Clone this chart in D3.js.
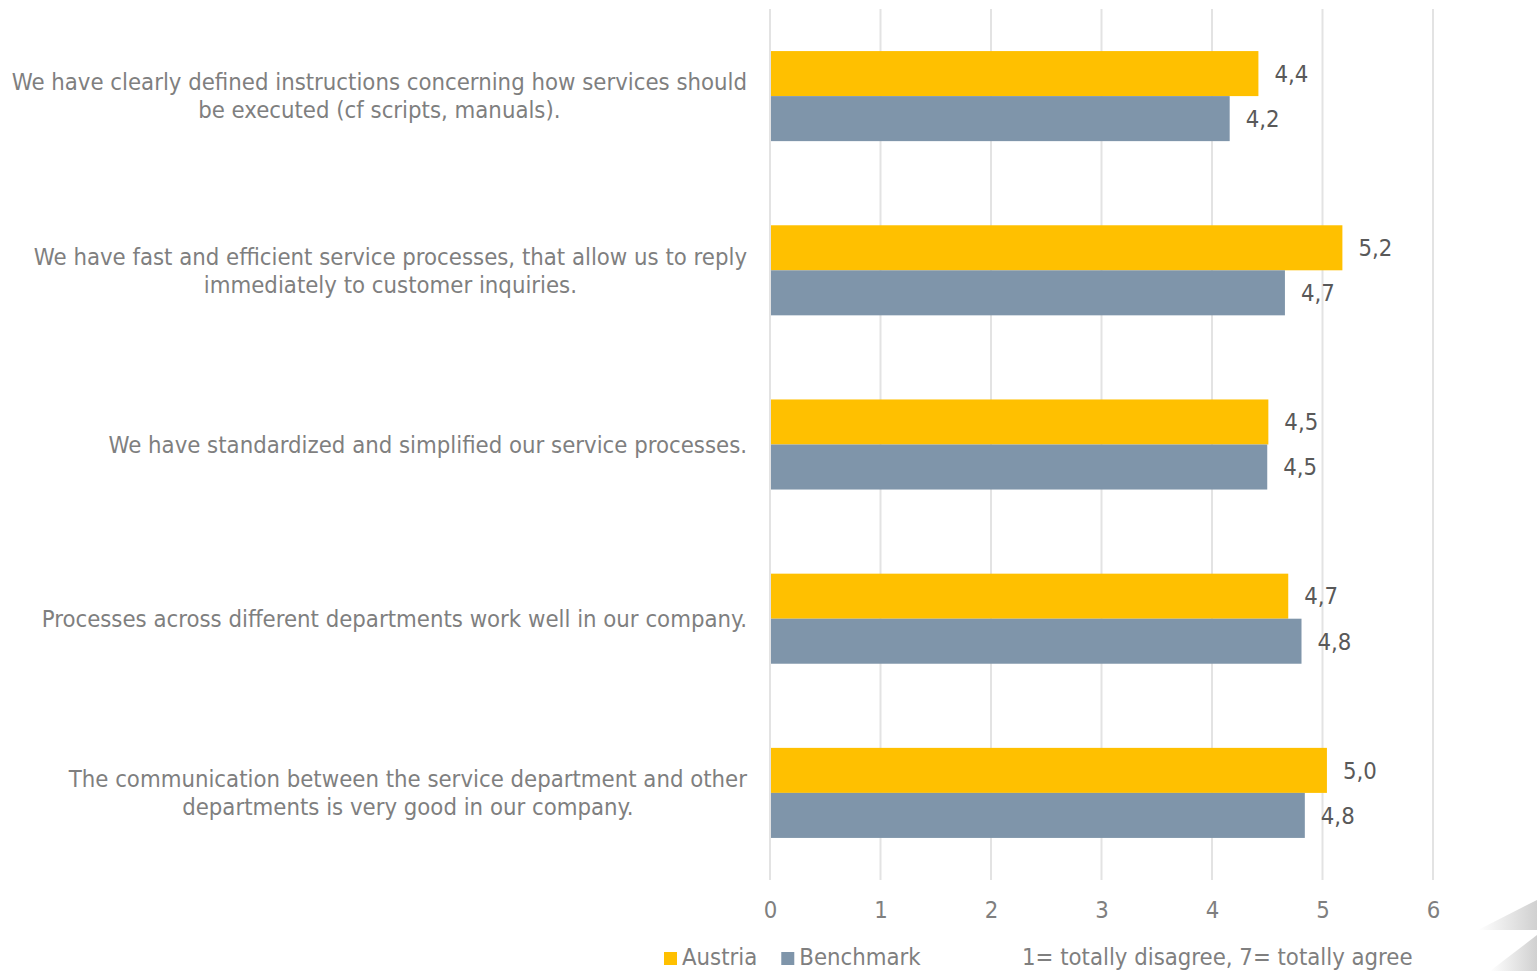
<!DOCTYPE html>
<html>
<head>
<meta charset="utf-8">
<script src="https://cdn.jsdelivr.net/npm/d3@7"></script>
<style>
  html, body { margin: 0; padding: 0; background: #fff; overflow: hidden; }
  svg { display: block; font-family: "DejaVu Sans Condensed", "DejaVu Sans", sans-serif; }
</style>
</head>
<body>
<div id="chart"></div>
<script>
// Chart data
var categories = [
  ['We have clearly defined instructions concerning how services should', 'be executed (cf scripts, manuals).'],
  ['We have fast and efficient service processes, that allow us to reply', 'immediately to customer inquiries.'],
  ['We have standardized and simplified our service processes.'],
  ['Processes across different departments work well in our company.'],
  ['The communication between the service department and other', 'departments is very good in our company.']
];
var seriesNames = ['Austria', 'Benchmark'];
var austria = [4.42, 5.18, 4.51, 4.69, 5.04];
var benchmark = [4.16, 4.66, 4.50, 4.81, 4.84];
var xTicks = [0, 1, 2, 3, 4, 5, 6];
var noteText = '1= totally disagree, 7= totally agree';

var colors = { Austria: '#FFC000', Benchmark: '#7F95AA' };

// Layout
var width = 1537, height = 971;
var plot = { left: 770, right: 1433, top: 9, bottom: 880 };
var fontSize = 23.7;

var svg = d3.select('#chart').append('svg')
  .attr('width', width)
  .attr('height', height);

var x = d3.scaleLinear().domain([0, 6]).range([plot.left, plot.right]);
var y = d3.scaleBand()
  .domain(d3.range(categories.length))
  .range([plot.top, plot.bottom])
  .paddingInner(0.483)
  .paddingOuter(0.2415);
var ySub = d3.scaleBand().domain(seriesNames).range([0, y.bandwidth()]);

// Gridlines
svg.append('g')
  .selectAll('line')
  .data(xTicks)
  .join('line')
  .attr('x1', function (d) { return x(d); })
  .attr('x2', function (d) { return x(d); })
  .attr('y1', plot.top)
  .attr('y2', plot.bottom)
  .attr('stroke', '#E3E3E3')
  .attr('stroke-width', 2);

// x axis tick labels
var xAxis = svg.append('g')
  .attr('transform', 'translate(0,' + plot.bottom + ')')
  .call(d3.axisBottom(x).tickValues(xTicks).tickSize(0).tickPadding(21).tickFormat(d3.format('d')));
xAxis.select('.domain').remove();
xAxis.selectAll('text')
  .attr('font-size', fontSize)
  .attr('fill', '#7F7F7F')
  .attr('font-family', '"DejaVu Sans Condensed", "DejaVu Sans", sans-serif');

// Bars
var fmt = function (v) { return d3.format('.1f')(v).replace('.', ','); };
var rows = [];
categories.forEach(function (c, i) {
  rows.push({ i: i, s: 'Austria', v: austria[i] });
  rows.push({ i: i, s: 'Benchmark', v: benchmark[i] });
});

svg.append('g')
  .selectAll('rect')
  .data(rows)
  .join('rect')
  .attr('x', x(0) + 1)
  .attr('y', function (d) { return y(d.i) + ySub(d.s); })
  .attr('width', function (d) { return x(d.v) - x(0) - 1; })
  .attr('height', ySub.bandwidth())
  .attr('fill', function (d) { return colors[d.s]; });

// Value labels
svg.append('g')
  .selectAll('text')
  .data(rows)
  .join('text')
  .attr('x', function (d) { return x(d.v) + 16; })
  .attr('y', function (d) { return y(d.i) + ySub(d.s) + ySub.bandwidth() / 2; })
  .attr('dy', '0.35em')
  .attr('font-size', fontSize)
  .attr('fill', '#595959')
  .text(function (d) { return fmt(d.v); });

// Category labels (lines centered within a right-aligned block)
var labelRight = 747, lineH = 28;
categories.forEach(function (lines, i) {
  var g = svg.append('g');
  var cy = y(i) + y.bandwidth() / 2;
  var texts = g.selectAll('text')
    .data(lines)
    .join('text')
    .attr('font-size', fontSize)
    .attr('fill', '#7F7F7F')
    .attr('text-anchor', 'middle')
    .attr('y', function (d, k) { return cy + (k - (lines.length - 1) / 2) * lineH; })
    .attr('dy', '0.35em')
    .text(function (d) { return d; });
  var maxW = d3.max(texts.nodes(), function (n) { return n.getComputedTextLength(); });
  texts.attr('x', labelRight - maxW / 2);
});

// Legend
var legend = svg.append('g').attr('transform', 'translate(664,0)');
var lx = 0;
seriesNames.forEach(function (s) {
  legend.append('rect')
    .attr('x', lx).attr('y', 952)
    .attr('width', 13).attr('height', 13)
    .attr('fill', colors[s]);
  var t = legend.append('text')
    .attr('x', lx + 18).attr('y', 965)
    .attr('font-size', fontSize)
    .attr('fill', '#7F7F7F')
    .text(s);
  lx += 18 + t.node().getComputedTextLength() + 24;
});

svg.append('text')
  .attr('x', 1022).attr('y', 965)
  .attr('font-size', fontSize)
  .attr('fill', '#7F7F7F')
  .text(noteText);

// Corner decoration
var defs = svg.append('defs');
var grad = defs.append('linearGradient').attr('id', 'corner')
  .attr('x1', '0').attr('y1', '0').attr('x2', '1').attr('y2', '0');
grad.append('stop').attr('offset', '0').attr('stop-color', '#ffffff');
grad.append('stop').attr('offset', '1').attr('stop-color', '#d0d0d0');
svg.append('path')
  .attr('d', 'M1478,930 L1537,900 L1537,930 Z')
  .attr('fill', 'url(#corner)');
svg.append('path')
  .attr('d', 'M1490,971 L1537,935 L1537,971 Z')
  .attr('fill', 'url(#corner)');
</script>
</body>
</html>
